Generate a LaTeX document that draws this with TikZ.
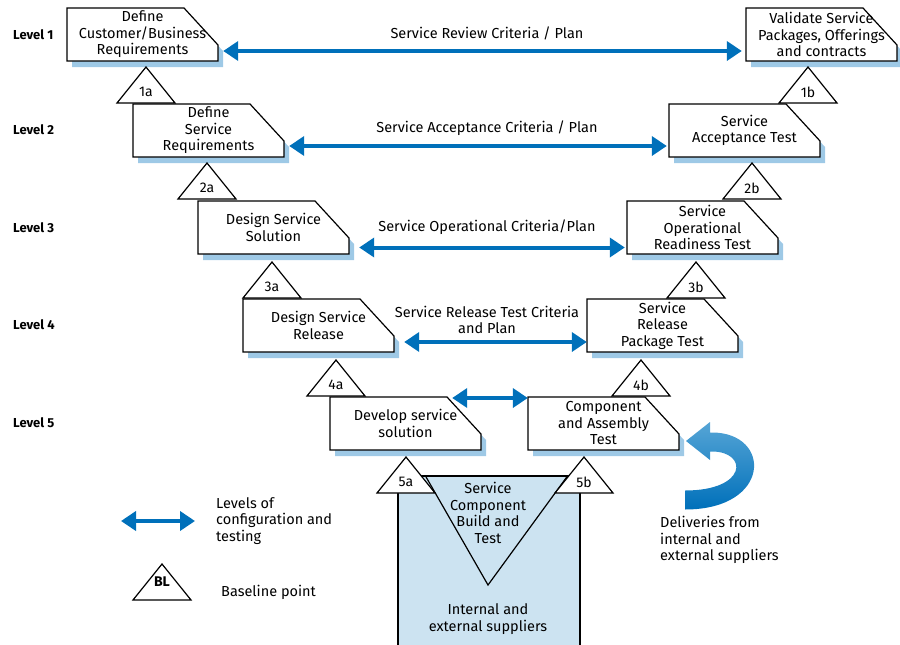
\documentclass[tikz,border=0pt]{standalone}
\usepackage{fontspec}
\setmainfont{Fira Sans}
\usetikzlibrary{arrows.meta}

\definecolor{vblue}{RGB}{0,112,186}
\definecolor{vlight}{RGB}{86,165,214}
\definecolor{vshadow}{RGB}{158,201,230}
\definecolor{vfill}{RGB}{204,227,241}

\tikzset{
  stage/.style={minimum width=151pt, minimum height=53pt, inner sep=0pt,
    align=center, font=\fontsize{14.5}{16.5}\selectfont},
  outline/.style={draw=black, line width=1.2pt, fill=white},
  levelarrow/.style={draw=vblue, line width=4pt,
    {Triangle[length=15pt,width=19pt]}-{Triangle[length=15pt,width=19pt]}},
  crit/.style={align=center, inner sep=0pt, font=\fontsize{14.5}{16.5}\selectfont},
  lvl/.style={anchor=west, inner sep=0pt, font=\fontsize{13}{15}\selectfont\bfseries},
  note/.style={anchor=west, align=left, inner sep=0pt, font=\fontsize{14.5}{16.5}\selectfont},
  pics/blmark/.style 2 args={code={
    \draw[outline] (-29,0) -- (0,-36) -- (29,0) -- cycle;
    \node[inner sep=0pt, font=\fontsize{14}{16}\selectfont] (-lbl) at (0,-#2) {#1};
  }}
}

% chamfered stage box: name, left, top, text
\newcommand{\stagebox}[4]{%
  \fill[vshadow] (#2+5,#3+6) -- (#2+122,#3+6) -- (#2+156,#3+43)
    -- (#2+156,#3+59) -- (#2+5,#3+59) -- cycle;
  \draw[outline] (#2,#3) -- (#2+117,#3) -- (#2+151,#3+37)
    -- (#2+151,#3+53) -- (#2,#3+53) -- cycle;
  \node[stage] (#1) at (#2+75.5,#3+26.5) {#4};
}

\begin{document}
\begin{tikzpicture}[x=1pt,y=-1pt]
  \useasboundingbox (0,0) rectangle (900,645);

  % levels
  \node[lvl] (lv1) at (13,35) {Level 1};
  \node[lvl] (lv2) at (13,130) {Level 2};
  \node[lvl] (lv3) at (13,228) {Level 3};
  \node[lvl] (lv4) at (13,325) {Level 4};
  \node[lvl] (lv5) at (13,423) {Level 5};

  % suppliers block
  \fill[vfill] (398,476) rectangle (580,646);
  \draw[line width=1.2pt] (398,646) -- (398,476) -- (580,476) -- (580,646);
  \draw[line width=1.2pt] (425.5,476) -- (488,585) -- (567.5,476);
  \node[crit] (scbt) at (488,513) {Service\\Component\\Build and\\Test};
  \node[crit] (ies) at (488,619) {Internal and\\external suppliers};

  % stages
  \stagebox{dcbr}{67}{8}{Define\\Customer/Business\\Requirements}
  \stagebox{vspo}{746}{8}{Validate Service\\Packages, Offerings\\and contracts}
  \stagebox{dsr}{133}{104}{Define\\Service\\Requirements}
  \stagebox{sat}{669}{104}{Service\\Acceptance Test}
  \stagebox{dss}{198}{201}{Design Service\\Solution}
  \stagebox{sort}{627}{201}{Service\\Operational\\Readiness Test}
  \stagebox{dsrel}{243}{299}{Design Service\\Release}
  \stagebox{srpt}{587}{299}{Service\\Release\\Package Test}
  \stagebox{dss5}{330}{397}{Develop service\\solution}
  \stagebox{cat}{528}{397}{Component\\and Assembly\\Test}

  % baseline points
  \pic (t1a) at (146,103) {blmark={1a}{11}};
  \pic (t1b) at (808,103) {blmark={1b}{11}};
  \pic (t2a) at (207,199) {blmark={2a}{11}};
  \pic (t2b) at (752,199) {blmark={2b}{11}};
  \pic (t3a) at (272,298) {blmark={3a}{11}};
  \pic (t3b) at (696,298) {blmark={3b}{11}};
  \pic (t4a) at (336,396) {blmark={4a}{11}};
  \pic (t4b) at (641,396) {blmark={4b}{11}};
  \pic (t5a) at (406,493) {blmark={5a}{11}};
  \pic (t5b) at (584,493) {blmark={5b}{11}};

  % levels of configuration and testing
  \draw[levelarrow] ([xshift=5pt,yshift=-16.5pt]dcbr.east) -- ([xshift=-4pt,yshift=-16.5pt]vspo.west);
  \draw[levelarrow] ([xshift=5pt,yshift=-15.5pt]dsr.east) -- ([xshift=-2pt,yshift=-15.5pt]sat.west);
  \draw[levelarrow] ([xshift=10pt,yshift=-20pt]dss.east) -- ([xshift=-2pt,yshift=-20pt]sort.west);
  \draw[levelarrow] ([xshift=10pt,yshift=-16.5pt]dsrel.east) -- ([xshift=0pt,yshift=-16.5pt]srpt.west);
  \draw[levelarrow] ([xshift=-29pt,yshift=25.5pt]dss5.east) -- ([yshift=25.5pt]cat.west);

  \node[crit] (c1) at (487,33) {Service Review Criteria / Plan};
  \node[crit] (c2) at (487,128) {Service Acceptance Criteria / Plan};
  \node[crit] (c3) at (487,227) {Service Operational Criteria/Plan};
  \node[crit] (c4) at (487,320) {Service Release Test Criteria\\and Plan};

  % deliveries
  \shade[top color=vlight, bottom color=vblue]
    (685,509.5) .. controls (772,509.5) and (772,432.5) .. (712,432.5)
    -- (710,432.5) -- (710,422) -- (686,441) -- (710,460) -- (710,451.5) -- (712,451.5)
    .. controls (748,451.5) and (748,490.5) .. (685,490.5) -- cycle;
  \node[note] (deliv) at (660,540) {Deliveries from\\internal and\\external suppliers};

  % legend
  \coordinate (lgA) at (121,521);
  \coordinate (lgB) at (195,521);
  \draw[levelarrow] (lgA) -- (lgB);
  \node[note] (lgtxt) at (216,521) {Levels of\\configuration and\\testing};
  \pic (bl) at (162,600) {blmark={\bfseries BL}{18}};
  \node[note] (bltxt) at (221,592) {Baseline point};
\end{tikzpicture}
\end{document}
